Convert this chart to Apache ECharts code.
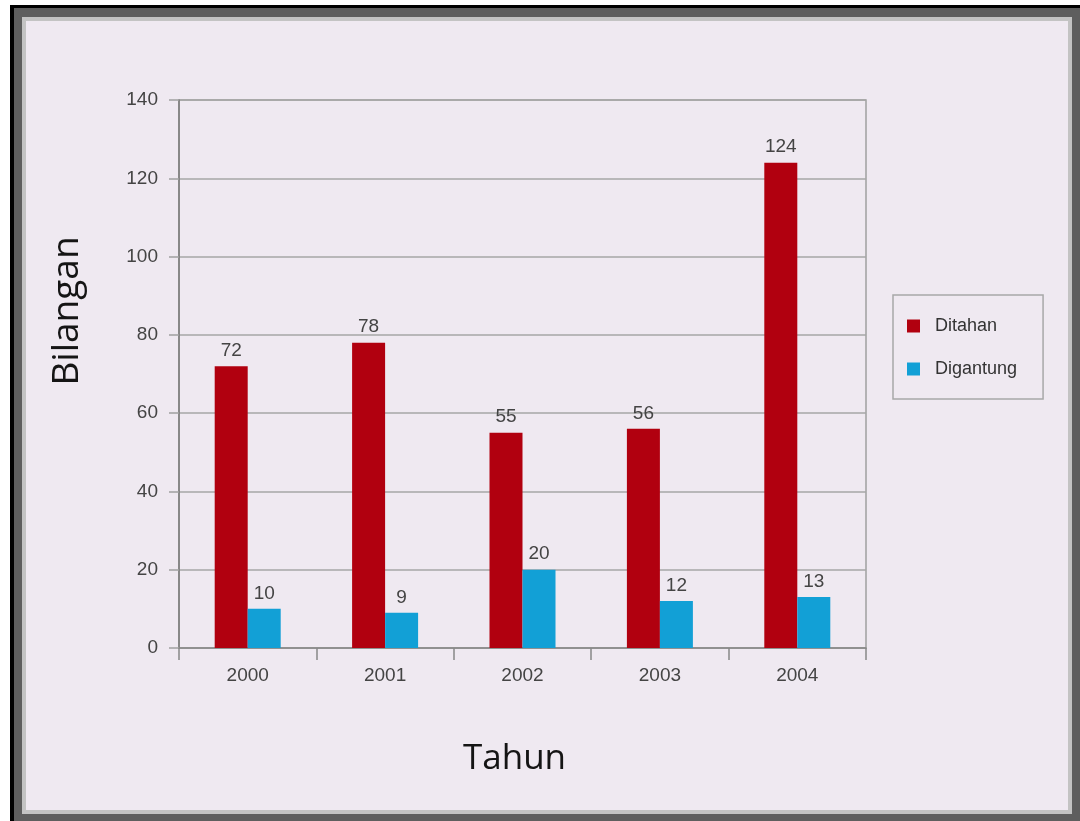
<!DOCTYPE html>
<html>
<head>
<meta charset="utf-8">
<style>
  html, body { margin: 0; padding: 0; background: #ffffff; }
  #chart { position: absolute; left: 0; top: 0; width: 1080px; height: 821px; }
</style>
<script src="https://cdn.jsdelivr.net/npm/echarts@6/dist/echarts.min.js"></script>
</head>
<body>
<div id="chart"></div>
<script>
// Years on the category axis
const years = ['2000', '2001', '2002', '2003', '2004'];
// Number of people detained each year
const ditahan = [72, 78, 55, 56, 124];
// Number of people executed each year
const digantung = [10, 9, 20, 12, 13];
// Value axis ticks
const yTicks = [0, 20, 40, 60, 80, 100, 120, 140];

const labelFont = 'Liberation Sans, Arial, sans-serif';
const titleFont = 'Open Sans, Noto Sans, sans-serif';

const chart = echarts.init(document.getElementById('chart'), null, { renderer: 'canvas' });

const barLabel = {
  show: true,
  position: 'top',
  distance: 6,
  fontFamily: labelFont,
  fontSize: 19,
  color: '#444444'
};

chart.setOption({
  backgroundColor: '#ffffff',
  animation: false,
  // framed page around the chart
  graphic: [
    { type: 'rect', z: -20, silent: true, shape: { x: 10, y: 5, width: 1070, height: 816 }, style: { fill: '#000000' } },
    { type: 'rect', z: -19, silent: true, shape: { x: 14, y: 8, width: 1066, height: 813 }, style: { fill: '#5e5e5e' } },
    { type: 'rect', z: -18, silent: true, shape: { x: 22, y: 17, width: 1050, height: 797 }, style: { fill: '#c3c3c3' } },
    { type: 'rect', z: -17, silent: true, shape: { x: 26, y: 21, width: 1042, height: 789 }, style: { fill: '#efe9f1' } }
  ],
  grid: {
    left: 179, right: 214, top: 100, bottom: 173,
    show: true,
    borderColor: '#a0a0a0',
    borderWidth: 1.5,
    backgroundColor: 'transparent'
  },
  legend: {
    orient: 'vertical',
    left: 893,
    top: 295,
    padding: [22, 26, 21, 14],
    itemGap: 25,
    itemWidth: 13,
    itemHeight: 13,
    icon: 'rect',
    borderColor: '#a8a8a8',
    borderWidth: 1.5,
    backgroundColor: 'transparent',
    textStyle: {
      fontFamily: labelFont,
      fontSize: 18,
      color: '#333333',
      padding: [0, 0, 0, 10]
    },
    data: ['Ditahan', 'Digantung']
  },
  xAxis: {
    type: 'category',
    data: years,
    name: 'Tahun',
    nameLocation: 'middle',
    nameGap: 94,
    nameTextStyle: { fontFamily: titleFont, fontSize: 35, color: '#151515', padding: [0, 16, 0, 0] },
    axisLine: { show: true, lineStyle: { color: '#888888', width: 1.5 } },
    axisTick: { show: true, length: 12, lineStyle: { color: '#888888', width: 1.5 } },
    axisLabel: { margin: 18, fontFamily: labelFont, fontSize: 19, color: '#444444' },
    splitLine: { show: false }
  },
  yAxis: {
    type: 'value',
    min: yTicks[0],
    max: yTicks[yTicks.length - 1],
    interval: yTicks[1] - yTicks[0],
    name: 'Bilangan',
    nameLocation: 'middle',
    nameRotate: 90,
    nameGap: 93,
    nameTextStyle: { fontFamily: titleFont, fontSize: 37, color: '#151515', padding: [0, 0, 0, 126] },
    axisLine: { show: true, lineStyle: { color: '#7a7a7a', width: 1.5 } },
    axisTick: { show: true, length: 10, lineStyle: { color: '#a0a0a0', width: 1.5 } },
    axisLabel: { margin: 21, fontFamily: labelFont, fontSize: 19, color: '#444444' },
    splitLine: { show: true, lineStyle: { color: '#a6a6a6', width: 1.5 } }
  },
  series: [
    {
      name: 'Ditahan',
      type: 'bar',
      data: ditahan,
      barWidth: 33,
      barGap: '0%',
      itemStyle: { color: '#b1000f' },
      label: barLabel
    },
    {
      name: 'Digantung',
      type: 'bar',
      data: digantung,
      barWidth: 33,
      barGap: '0%',
      itemStyle: { color: '#12a0d6' },
      label: barLabel
    }
  ]
});
</script>
</body>
</html>
